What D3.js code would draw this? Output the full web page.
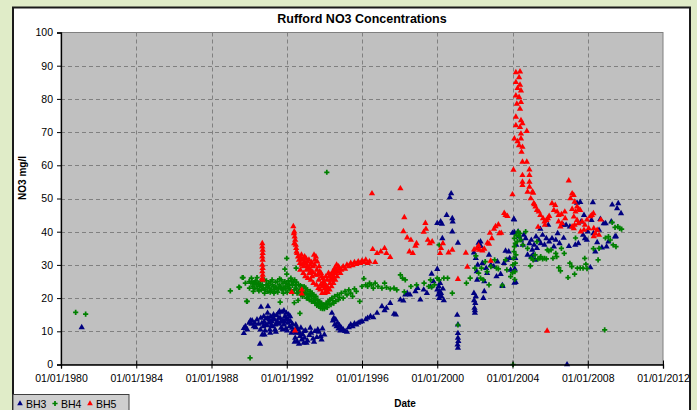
<!DOCTYPE html>
<html><head><meta charset="utf-8">
<script src="https://cdn.jsdelivr.net/npm/d3@7"></script>
<style>body{margin:0;background:#E0ECC8;} svg{display:block;font-family:Arial,"Liberation Sans",sans-serif;}</style>
</head><body><svg id="c" width="697" height="410"></svg>
<script>
const chartTitle = "Rufford NO3 Concentrations";
const xTitle = "Date";
const yTitle = "NO3 mg/l";
const seriesNames = ["BH3", "BH4", "BH5"];
const seriesColors = ["#000080", "#008000", "#FF0000"];
const xTicks = [1980, 1984, 1988, 1992, 1996, 2000, 2004, 2008, 2012];
const yTicks = [0, 10, 20, 30, 40, 50, 60, 70, 80, 90, 100];

// [decimal year, NO3 mg/l]
const bh3 = [
[1981.1,11.2],[1989.72,9.4],[1989.72,10.9],[1989.8,11.5],[1989.9,10.5],[1990.0,12.5],[1990.07,13.2],[1990.12,12.2],
[1990.16,13.2],[1990.25,11.5],[1990.3,12.5],[1990.35,11.2],[1990.42,13.5],[1990.5,12.2],[1990.58,6.2],[1990.63,17.3],
[1990.6,10.5],[1990.7,9.0],[1990.75,11.5],[1990.8,12.8],[1990.85,10.2],[1990.9,13.8],[1990.95,11.8],[1991.0,17.5],
[1991.0,14.0],[1991.05,12.5],[1991.1,10.5],[1991.15,14.5],[1991.2,13.0],[1991.25,11.5],[1991.3,15.0],[1991.35,13.5],
[1991.4,12.0],[1991.45,14.8],[1991.5,13.0],[1991.55,15.5],[1991.6,12.2],[1991.65,14.0],[1991.7,11.0],[1991.75,15.8],
[1991.8,13.2],[1991.85,12.0],[1991.9,14.5],[1991.95,10.8],[1992.0,13.8],[1992.05,12.5],[1992.1,15.0],[1992.15,11.5],
[1992.2,13.0],[1992.25,9.5],[1992.3,12.2],[1992.35,10.0],[1992.45,8.0],[1992.5,9.5],[1992.55,7.0],[1992.6,10.5],
[1992.65,6.2],[1992.7,8.5],[1992.75,11.0],[1992.8,7.5],[1992.85,9.0],[1992.9,6.5],[1992.95,8.0],[1993.0,10.2],
[1993.1,7.2],[1993.2,8.8],[1993.3,9.5],[1993.4,7.8],[1993.5,10.0],[1993.6,8.2],[1993.7,9.8],[1993.8,8.5],
[1993.9,10.8],[1994.0,9.0],[1994.4,15.5],[1994.45,13.2],[1994.5,14.0],[1994.55,12.0],[1994.6,13.5],[1994.65,11.5],
[1994.7,12.5],[1994.75,10.8],[1994.8,11.8],[1994.85,10.2],[1994.9,11.0],[1995.0,10.5],[1995.1,10.0],[1995.2,9.8],
[1995.3,11.2],[1995.4,12.0],[1995.5,11.5],[1995.6,12.3],[1995.7,12.0],[1995.8,12.5],[1995.9,12.8],[1996.0,13.0],
[1996.2,13.6],[1996.3,14.0],[1996.45,14.5],[1996.6,14.2],[1996.8,15.5],[1997.06,17.5],[1997.2,16.3],[1997.3,17.0],
[1997.5,18.5],[1997.7,15.2],[1997.8,15.0],[1998.04,19.5],[1998.2,19.2],[1998.3,21.0],[1998.4,21.5],[1998.55,21.0],
[1998.84,22.0],[1998.95,23.0],[1999.1,19.5],[1999.28,22.5],[1999.45,21.5],[1999.64,23.4],[1999.7,27.3],[1999.8,25.0],
[2000.0,42.6],[2000.0,28.7],[2000.0,22.5],[2000.05,21.0],[2000.08,23.5],[2000.1,20.0],[2000.12,22.0],[2000.15,24.5],
[2000.18,43.0],[2000.2,21.5],[2000.22,20.5],[2000.25,42.3],[2000.27,38.0],[2000.3,22.8],[2000.35,19.3],[2000.5,45.0],
[2000.67,50.3],[2000.74,51.5],[2000.8,44.0],[2000.82,43.0],[2000.8,40.0],[2001.06,14.9],[2001.1,36.6],[2001.1,12.0],
[2001.1,9.4],[2001.1,8.0],[2001.12,7.0],[2001.08,6.0],[2001.1,5.0],[2001.95,33.7],[2001.95,21.5],[2001.96,19.3],
[2001.98,17.0],[2002.0,16.3],[2002.0,15.5],[2002.02,18.5],[2002.05,20.5],[2002.05,32.0],[2002.1,28.0],[2002.12,25.5],
[2002.15,30.0],[2002.2,36.6],[2002.3,37.0],[2002.32,35.6],[2002.4,30.5],[2002.45,20.0],[2002.5,22.0],[2002.5,25.0],
[2002.6,29.0],[2002.65,27.5],[2002.75,33.0],[2002.85,30.0],[2003.0,29.5],[2003.15,26.5],[2003.2,31.0],[2003.37,27.2],
[2003.46,23.8],[2003.47,23.6],[2003.55,30.5],[2003.63,34.2],[2003.7,31.5],[2003.8,34.0],[2003.85,32.0],[2003.9,28.5],
[2004.0,39.6],[2004.07,43.8],[2004.09,43.6],[2004.1,39.8],[2004.1,24.6],[2004.12,28.8],[2004.15,32.0],[2004.17,24.8],
[2004.2,36.0],[2004.3,40.0],[2004.35,38.5],[2004.45,37.5],[2004.55,36.0],[2004.6,39.0],[2004.7,38.0],[2004.8,33.0],
[2004.9,36.5],[2005.0,37.5],[2005.0,32.5],[2005.05,34.5],[2005.1,33.0],[2005.15,36.0],[2005.2,31.5],[2005.25,38.5],
[2005.3,35.0],[2005.4,37.5],[2005.48,40.8],[2005.5,36.5],[2005.6,39.0],[2005.7,36.0],[2005.8,38.0],[2005.9,42.0],
[2005.95,37.0],[2006.1,38.0],[2006.2,35.5],[2006.3,37.5],[2006.4,39.5],[2006.5,36.5],[2006.7,42.0],[2006.72,38.1],
[2006.85,42.0],[2006.9,0.0],[2007.0,35.6],[2007.05,41.5],[2007.34,36.0],[2007.43,48.7],[2007.5,36.5],[2007.6,48.9],
[2007.65,43.0],[2007.75,39.0],[2007.8,45.0],[2007.85,38.0],[2007.95,37.5],[2008.0,40.0],[2008.14,29.2],[2008.2,43.5],
[2008.27,48.8],[2008.3,39.5],[2008.4,34.0],[2008.5,36.8],[2008.6,40.5],[2008.67,43.8],[2008.75,35.2],[2008.85,42.5],
[2008.95,42.5],[2009.0,35.5],[2009.1,37.0],[2009.25,43.0],[2009.3,48.1],[2009.45,38.5],[2009.5,38.6],[2009.56,47.0],
[2009.62,48.5],[2009.77,45.5],
[1990.62,14.0],[1990.68,12.5],[1990.78,14.5],[1990.88,12.0],[1990.98,15.5],[1991.08,13.5],[1991.18,11.8],[1991.28,13.8],
[1991.38,10.5],[1991.48,12.5],[1991.58,14.0],[1991.68,12.8],[1991.78,10.5],[1991.88,13.0],[1991.98,15.5],[1992.08,13.5],
[1992.18,14.5],[1992.28,11.0],[1991.12,9.5],[1991.42,9.8],[1990.82,9.0],[1992.02,10.2],[1991.62,16.0],[1991.85,16.2],
[1992.52,11.2],[1992.68,9.5],[1992.92,10.0],[1993.05,6.5],[1993.25,11.0],[1993.45,6.8],[1993.65,10.5],[1993.85,7.5],
[1992.42,6.8],[1992.48,12.0]
];

const bh4 = [
[1980.78,15.7],[1981.31,15.2],[1989.0,22.2],[1989.46,23.3],[1989.49,23.2],[1989.64,26.2],[1989.68,26.2],[1989.8,24.5],
[1989.87,19.0],[1989.9,19.0],[1990.05,2.0],[1990.0,25.0],[1990.1,24.5],[1990.15,25.0],[1990.2,23.5],[1990.25,24.5],
[1990.3,23.0],[1990.35,25.2],[1990.4,24.0],[1990.45,22.8],[1990.5,24.5],[1990.55,23.5],[1990.6,25.0],[1990.65,22.5],
[1990.7,24.0],[1990.75,23.0],[1990.8,25.5],[1990.85,22.5],[1990.9,24.0],[1990.95,23.2],[1991.0,22.0],[1991.05,24.5],
[1991.1,23.0],[1991.15,25.0],[1991.2,22.5],[1991.25,24.0],[1991.3,23.5],[1991.35,22.0],[1991.4,24.8],[1991.45,23.0],
[1991.5,25.0],[1991.55,22.8],[1991.6,24.0],[1991.65,18.8],[1991.65,23.5],[1991.7,25.5],[1991.75,22.5],[1991.8,24.5],
[1991.85,23.0],[1991.9,28.7],[1991.9,25.0],[1991.95,22.8],[1992.0,32.0],[1992.0,27.2],[1992.0,24.5],[1992.05,23.5],
[1992.1,25.2],[1992.15,24.0],[1992.2,22.5],[1992.25,25.0],[1992.3,23.8],[1992.35,24.8],[1992.4,18.6],[1992.4,22.5],
[1992.45,24.0],[1992.5,29.0],[1992.5,23.0],[1992.55,21.5],[1992.6,19.3],[1992.62,24.0],[1992.7,15.4],[1992.7,22.5],
[1992.75,21.0],[1992.8,23.5],[1992.85,20.5],[1992.9,22.0],[1992.95,21.5],[1993.0,23.0],[1993.05,20.0],[1993.1,22.5],
[1993.15,21.0],[1993.2,19.5],[1993.25,22.0],[1993.3,20.5],[1993.35,21.5],[1993.4,19.0],[1993.45,20.0],[1993.5,18.5],
[1993.55,20.5],[1993.6,17.8],[1993.65,19.5],[1993.7,17.5],[1993.75,18.8],[1993.8,17.0],[1993.85,18.5],[1993.9,16.8],
[1993.95,18.0],[1994.0,16.8],[1994.05,17.5],[1994.1,18.5],[1994.13,57.9],[1994.15,17.2],[1994.2,19.0],[1994.25,18.2],
[1994.3,19.5],[1994.35,18.0],[1994.4,20.0],[1994.45,19.2],[1994.5,18.5],[1994.55,20.5],[1994.6,19.0],[1994.7,21.0],
[1994.75,19.5],[1994.8,20.2],[1994.9,21.5],[1995.0,20.0],[1995.1,22.0],[1995.2,21.0],[1995.3,22.5],[1995.4,21.5],
[1995.5,20.5],[1995.6,22.8],[1995.7,22.0],[1995.88,19.0],[1996.0,23.5],[1996.1,25.9],[1996.2,24.0],[1996.3,23.5],
[1996.4,24.5],[1996.5,24.0],[1996.6,23.0],[1996.7,24.5],[1996.85,23.5],[1997.06,23.0],[1997.2,24.5],[1997.3,23.2],
[1997.5,22.8],[1997.7,23.0],[1997.85,22.5],[1998.04,27.0],[1998.15,26.0],[1998.3,25.5],[1998.25,21.9],[1998.6,23.5],
[1998.9,24.0],[1999.3,24.5],[1999.55,23.5],[1999.64,25.5],[1999.7,23.3],[1999.85,24.0],[2000.0,26.0],[2000.1,36.0],
[2000.1,25.5],[2000.35,26.0],[2000.55,26.0],[2000.8,21.5],[2001.1,11.9],[2001.55,24.5],[2001.75,26.0],[2002.0,29.0],
[2002.05,32.7],[2002.2,27.5],[2002.3,26.0],[2002.35,29.0],[2002.45,25.5],[2002.55,31.0],[2002.65,28.0],[2002.75,24.0],
[2002.85,29.5],[2003.05,31.5],[2003.15,29.0],[2003.25,28.8],[2003.46,23.8],[2003.63,31.5],[2003.7,28.5],[2003.9,26.5],
[2004.0,27.6],[2004.02,30.0],[2004.05,32.0],[2004.03,0.0],[2004.08,34.0],[2004.1,35.5],[2004.1,38.0],[2004.12,25.6],
[2004.13,28.0],[2004.15,30.5],[2004.15,36.5],[2004.18,33.0],[2004.2,39.0],[2004.25,37.0],[2004.3,40.0],[2004.35,38.5],
[2004.4,39.5],[2004.45,37.5],[2004.55,36.0],[2004.7,40.0],[2004.8,35.0],[2004.95,29.7],[2005.0,32.0],[2005.1,31.5],
[2005.2,33.0],[2005.3,37.0],[2005.35,31.8],[2005.45,32.0],[2005.5,32.5],[2005.6,31.8],[2005.7,32.0],[2005.8,31.8],
[2005.85,34.5],[2005.93,34.2],[2006.05,34.5],[2006.15,32.0],[2006.3,33.5],[2006.35,32.5],[2006.46,29.2],[2006.55,28.2],
[2006.6,35.0],[2006.75,33.5],[2006.95,26.2],[2007.05,30.5],[2007.15,29.5],[2007.3,27.2],[2007.35,38.1],[2007.45,29.0],
[2007.6,29.0],[2007.75,29.0],[2007.84,32.0],[2007.9,30.2],[2007.96,28.9],[2008.3,34.9],[2008.6,35.0],[2008.55,31.5],
[2008.9,10.4],[2008.94,38.1],[2009.1,38.5],[2009.2,37.5],[2009.3,42.8],[2009.35,36.0],[2009.45,41.3],[2009.5,35.5],
[2009.6,41.5],[2009.7,41.0],[2009.8,40.8],
[1990.02,23.0],[1990.12,26.0],[1990.22,22.0],[1990.32,24.8],[1990.42,26.2],[1990.52,22.2],[1990.62,23.8],[1990.72,25.8],
[1990.82,21.5],[1990.92,25.2],[1991.02,23.8],[1991.12,21.8],[1991.22,25.5],[1991.32,21.5],[1991.42,23.2],[1991.52,21.8],
[1991.62,25.8],[1991.72,23.0],[1991.82,21.5],[1991.92,23.5],[1992.02,21.8],[1992.12,23.0],[1992.22,26.0],[1992.32,21.5],
[1992.42,25.5],[1992.52,24.8],[1992.62,22.0],[1992.72,23.8],[1992.82,21.8],[1992.92,23.5],[1993.02,21.5],[1993.12,20.0],
[1993.22,21.0],[1993.32,19.0],[1993.42,21.0],[1993.52,19.5],[1993.62,18.5],[1993.72,19.0],[1993.82,18.0],[1993.92,17.5]
];

const bh5 = [
[1990.7,36.5],[1990.7,35.5],[1990.72,34.5],[1990.72,33.5],[1990.7,32.5],[1990.72,31.5],[1990.7,30.0],[1990.72,29.0],
[1990.7,28.0],[1990.72,27.0],[1990.7,26.0],[1990.72,25.5],[1992.26,21.8],[1992.35,41.6],[1992.4,40.0],[1992.38,39.5],
[1992.42,38.5],[1992.45,37.5],[1992.4,36.5],[1992.48,36.0],[1992.5,35.0],[1992.52,34.0],[1992.55,33.5],[1992.6,32.5],
[1992.44,10.2],[1992.65,31.5],[1992.7,30.5],[1992.75,32.0],[1992.8,21.3],[1992.8,22.5],[1992.8,30.0],[1992.85,31.5],
[1992.9,29.5],[1992.95,32.5],[1993.0,30.5],[1993.05,28.5],[1993.1,31.0],[1993.15,29.0],[1993.2,27.5],[1993.25,30.0],
[1993.3,28.0],[1993.35,26.5],[1993.4,29.5],[1993.45,33.0],[1993.5,31.5],[1993.55,32.5],[1993.6,28.5],[1993.65,27.0],
[1993.7,25.5],[1993.75,28.0],[1993.8,24.0],[1993.85,26.5],[1993.9,23.5],[1993.95,25.0],[1994.0,22.8],[1994.05,24.0],
[1994.1,22.0],[1994.15,25.5],[1994.2,23.0],[1994.25,26.5],[1994.3,24.5],[1994.35,27.0],[1994.4,25.5],[1994.45,28.0],
[1994.5,26.5],[1994.55,29.0],[1994.6,27.5],[1994.65,30.0],[1994.7,28.0],[1994.8,29.0],[1994.9,28.5],[1995.0,29.5],
[1995.1,28.8],[1995.2,30.0],[1995.3,29.5],[1995.4,30.5],[1995.5,29.8],[1995.6,30.8],[1995.7,30.2],[1995.8,31.0],
[1995.9,30.5],[1996.0,31.2],[1996.1,30.8],[1996.2,31.5],[1996.3,30.5],[1996.4,31.0],[1996.53,51.5],[1996.57,34.7],
[1996.7,30.8],[1996.8,33.5],[1997.0,34.0],[1997.2,35.0],[1997.3,33.5],[1997.5,32.3],[1998.04,53.0],[1998.2,40.1],
[1998.25,44.3],[1998.4,38.2],[1998.52,34.0],[1998.6,37.5],[1998.7,33.5],[1998.84,35.7],[1998.9,36.5],[1999.28,39.9],
[1999.37,42.6],[1999.4,40.8],[1999.5,37.5],[1999.6,36.5],[1999.73,37.0],[2000.15,33.5],[2000.2,35.0],[2000.3,36.5],
[2000.6,33.7],[2000.8,34.5],[2001.1,25.7],[2001.52,33.6],[2001.6,29.4],[2001.96,34.6],[2002.1,35.0],[2002.2,35.8],
[2002.25,34.5],[2002.4,34.3],[2002.5,34.8],[2002.67,36.6],[2002.75,36.3],[2002.8,39.6],[2002.84,31.2],[2002.9,38.0],
[2003.1,41.6],[2003.02,40.8],[2003.25,42.1],[2003.3,39.5],[2003.4,39.6],[2003.56,45.6],[2003.63,45.0],[2003.73,44.7],
[2004.0,51.2],[2004.05,58.6],[2004.18,88.0],[2004.4,88.2],[2004.35,86.5],[2004.18,85.0],[2004.4,84.2],[2004.27,83.2],
[2004.45,82.5],[2004.18,81.0],[2004.35,80.5],[2004.45,79.0],[2004.23,78.5],[2004.4,77.0],[2004.18,74.6],[2004.45,73.5],
[2004.53,72.6],[2004.18,72.0],[2004.4,71.5],[2004.76,70.3],[2004.45,69.5],[2004.1,68.0],[2004.27,67.2],[2004.45,68.0],
[2004.35,66.0],[2004.53,65.5],[2004.48,64.0],[2004.53,61.0],[2004.76,61.0],[2004.9,58.7],[2004.53,57.0],[2004.9,57.0],
[2004.53,55.0],[2004.9,55.0],[2004.53,54.0],[2004.9,53.5],[2004.8,52.0],[2005.06,52.0],[2004.97,50.0],[2005.1,51.7],
[2005.13,48.5],[2005.17,48.2],[2005.22,47.5],[2005.3,46.5],[2005.4,46.0],[2005.48,45.0],[2005.62,44.0],[2005.7,43.0],
[2005.72,42.0],[2005.8,43.5],[2005.88,44.0],[2005.95,44.7],[2006.1,48.5],[2006.27,48.0],[2006.2,46.5],[2006.37,46.0],
[2006.45,45.0],[2006.6,45.2],[2006.78,46.0],[2006.45,43.0],[2006.63,42.5],[2006.8,44.0],[2006.55,41.5],[2005.36,41.4],
[2005.84,10.1],[2006.99,55.4],[2007.17,51.5],[2007.25,51.0],[2007.08,50.0],[2007.3,49.0],[2007.43,47.5],[2007.52,46.8],
[2007.6,46.5],[2007.17,46.8],[2007.35,46.0],[2007.26,44.5],[2007.43,43.5],[2007.3,42.0],[2007.17,41.5],[2007.5,42.5],
[2007.7,43.0],[2007.85,42.0],[2007.96,43.6],[2008.14,44.6],[2008.22,45.0],[2008.3,45.5],[2008.05,41.0],[2007.8,40.5],
[2008.32,41.0],[2008.4,39.5],[2008.5,40.5],[2008.32,38.6],[2007.62,40.0],[2007.26,41.0],[2008.7,43.6],[2008.6,39.0],
[1992.72,28.5],[1992.78,33.0],[1992.88,27.5],[1992.92,30.8],[1992.98,26.5],[1993.02,32.0],[1993.08,29.8],[1993.12,26.0],
[1993.18,31.5],[1993.22,28.8],[1993.28,25.5],[1993.32,30.8],[1993.38,27.8],[1993.42,24.5],[1993.48,30.0],[1993.52,27.0],
[1993.58,24.0],[1993.62,31.0],[1993.68,23.0],[1993.72,29.5],[1993.78,22.5],[1993.82,27.5],[1993.88,21.5],[1993.92,26.0],
[1993.98,24.5],[1994.02,21.5],[1994.08,26.5],[1994.12,23.5],[1994.18,21.8],[1994.22,27.5],[1994.28,22.5],[1994.32,25.5],
[1994.38,23.5],[1994.42,26.0],[1994.48,24.5],[1994.52,27.5],[1994.58,25.5],[1994.62,28.5],[1994.68,26.5],[1994.75,29.5],
[1994.85,27.5]
];

const seriesData = [bh3, bh4, bh5];
const seriesShapes = [d3.symbolTriangle, d3.symbolCross, d3.symbolTriangle];

const W = 697, H = 410;
const svg = d3.select("#c");
svg.append("rect").attr("width", W).attr("height", H).attr("fill", "#E0ECC8");
svg.append("rect").attr("x", 13).attr("y", 7.5).attr("width", 677).attr("height", 430)
  .attr("fill", "#fff").attr("stroke", "#1a1a1a").attr("stroke-width", 2);

const L = 61, R = 663, T = 32.5, B = 364.5;
const x = d3.scaleLinear().domain([1980, 2012]).range([L, R]);
const y = d3.scaleLinear().domain([0, 100]).range([B, T]);

svg.append("rect").attr("x", L).attr("y", T).attr("width", R - L).attr("height", B - T)
  .attr("fill", "#C0C0C0").attr("stroke", "#808080").attr("stroke-width", 1);

const grid = svg.append("g").attr("stroke", "#808080").attr("stroke-dasharray", "4,3").attr("stroke-width", 1);
grid.selectAll("line.h").data(yTicks.filter(d => d > 0 && d < 100)).join("line")
  .attr("x1", L).attr("x2", R).attr("y1", d => Math.round(y(d)) + 0.5).attr("y2", d => Math.round(y(d)) + 0.5);
grid.selectAll("line.v").data(xTicks.filter(d => d > 1980 && d < 2012)).join("line")
  .attr("y1", T).attr("y2", B).attr("x1", d => Math.round(x(d)) + 0.5).attr("x2", d => Math.round(x(d)) + 0.5);

// series
seriesData.forEach((data, i) => {
  svg.append("g").selectAll("path").data(data).join("path")
    .attr("transform", d => `translate(${x(d[0])},${y(d[1])})`)
    .attr("d", d3.symbol().type(seriesShapes[i]).size(i === 1 ? 15 : 17))
    .attr("fill", seriesColors[i]);
});

// axes
const yAxis = svg.append("g").attr("transform", `translate(${L},0)`)
  .call(d3.axisLeft(y).tickValues(yTicks).tickSize(4).tickPadding(4));
const xAxis = svg.append("g").attr("transform", `translate(0,${B})`)
  .call(d3.axisBottom(x).tickValues(xTicks).tickFormat(d => "01/01/" + d).tickSize(4).tickPadding(6));
xAxis.selectAll(".tick line").attr("y1", -4);
[yAxis, xAxis].forEach(g => {
  g.select(".domain").attr("stroke", "#000").attr("stroke-width", 1.3);
  g.selectAll(".tick line").attr("stroke", "#000");
  g.selectAll("text").attr("font-size", "10.5px").attr("fill", "#000").attr("font-family", "Arial, 'Liberation Sans', sans-serif");
});

// titles
svg.append("text").attr("x", (L + R) / 2).attr("y", 23).attr("text-anchor", "middle")
  .attr("font-weight", "bold").attr("font-size", "12.5px").text(chartTitle);
svg.append("text").attr("x", 405).attr("y", 407).attr("text-anchor", "middle")
  .attr("font-weight", "bold").attr("font-size", "10px").text(xTitle);
svg.append("text").attr("transform", "translate(26,178) rotate(-90)").attr("text-anchor", "middle")
  .attr("font-weight", "bold").attr("font-size", "10px").text(yTitle);

// legend
const lg = svg.append("g");
lg.append("rect").attr("x", 13).attr("y", 394.5).attr("width", 116).attr("height", 20)
  .attr("fill", "#CFCFCF").attr("stroke", "#404040").attr("stroke-width", 1);
const lx = [20, 55, 90];
seriesNames.forEach((n, i) => {
  lg.append("path").attr("transform", `translate(${lx[i]},403.5)`)
    .attr("d", d3.symbol().type(seriesShapes[i]).size(i === 1 ? 15 : 14)).attr("fill", seriesColors[i]);
  lg.append("text").attr("x", lx[i] + 6).attr("y", 407.5).attr("font-size", "10.5px").text(n);
});
</script></body></html>
